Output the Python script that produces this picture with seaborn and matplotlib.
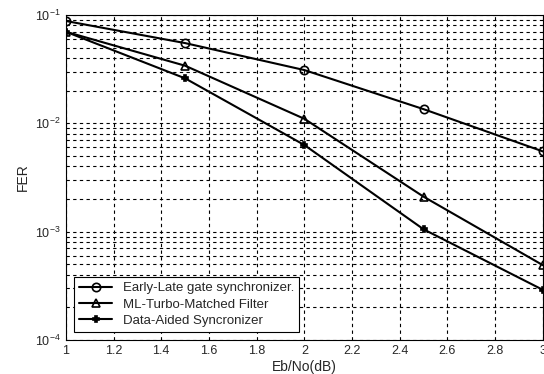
import matplotlib
matplotlib.use("Agg")
import matplotlib.pyplot as plt
import seaborn as sns
import pandas as pd
from matplotlib.ticker import LogLocator, FixedLocator

sns.set_theme(style="white")
plt.rcParams['font.family'] = ['Liberation Sans', 'DejaVu Sans']

ebno = [1.0, 1.5, 2.0, 2.5, 3.0]
early_late = [0.088, 0.055, 0.031, 0.0135, 0.0055]
ml_turbo = [0.070, 0.034, 0.011, 0.0021, 0.00049]
data_aided = [0.070, 0.026, 0.0063, 0.00105, 0.00029]
labels = ["Early-Late gate synchronizer.", "ML-Turbo-Matched Filter", "Data-Aided Syncronizer"]
xticks = [1, 1.2, 1.4, 1.6, 1.8, 2, 2.2, 2.4, 2.6, 2.8, 3]

fig = plt.figure(figsize=(5.44, 3.74), dpi=100)
ax = fig.add_axes([0.121, 0.091, 0.877, 0.869])

series = [early_late, ml_turbo, data_aided]
markers = ['o', '^', 'P']
msizes = [6, 6, 5]
for vals, lab, mk, ms in zip(series, labels, markers, msizes):
    df = pd.DataFrame({"x": ebno, "y": vals})
    face = 'none' if mk in ('o', '^') else 'black'
    sns.lineplot(data=df, x="x", y="y", ax=ax, color='black', lw=1.5,
                 marker=mk, markersize=ms, markerfacecolor=face,
                 markeredgecolor='black', markeredgewidth=1.2, label=lab)

ax.set_yscale('log')
ax.set_xlim(1, 3)
ax.set_ylim(1e-4, 1e-1)
ax.xaxis.set_major_locator(FixedLocator(xticks))
ax.set_xticklabels([f"{t:g}" for t in xticks])
ax.yaxis.set_major_locator(LogLocator(base=10))
ax.yaxis.set_minor_locator(LogLocator(base=10, subs=range(2, 10)))
ax.grid(True, which='major', axis='both', color='black', linestyle=(0, (3, 3)), lw=0.8)
ax.grid(True, which='minor', axis='y', color='black', linestyle=(0, (3, 3)), lw=0.8)
ax.tick_params(axis='both', which='both', direction='in', labelsize=9, length=3, color='black')
ax.tick_params(axis='y', which='minor', length=2)
for s in ax.spines.values():
    s.set_color('black')
    s.set_linewidth(0.8)
ax.set_xlabel("Eb/No(dB)", fontsize=10, labelpad=2)
ax.set_ylabel("FER", fontsize=10)

leg = ax.legend(loc='lower left', fontsize=9.5, frameon=True, fancybox=False,
                edgecolor='black', framealpha=1, handlelength=2.5,
                borderaxespad=0.6, labelspacing=0.3)
leg.get_frame().set_linewidth(0.8)

fig.savefig("out.png", dpi=100)
